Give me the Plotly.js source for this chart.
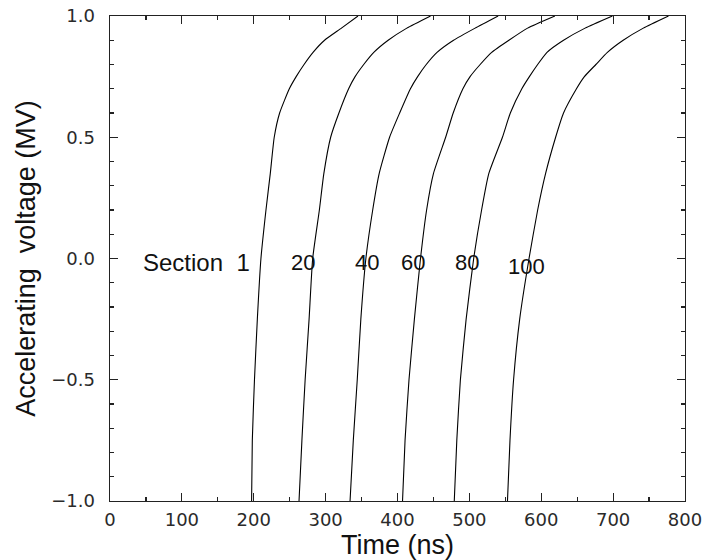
<!DOCTYPE html>
<html>
<head>
<meta charset="utf-8">
<script src="https://cdn.plot.ly/plotly-3.0.1.min.js"></script>
<style>
  html, body { margin: 0; padding: 0; background: #fff; }
  #chart { width: 715px; height: 560px; }
</style>
</head>
<body>
<div id="chart"></div>
<script>
// Accelerating voltage levels (MV) shared by every section curve
const volts = [-1, -0.75, -0.5, -0.25, 0, 0.2, 0.35, 0.5, 0.6, 0.7, 0.75, 0.8, 0.85, 0.9, 0.95, 1.0];

// Time (ns) at which each section reaches the voltage above
const timeSection1   = [197, 198, 201, 205, 210, 217, 223, 228.5, 236, 249.5, 259, 270, 282.5, 298.5, 322, 345];
const timeSection20  = [263, 267, 271.5, 277, 282, 291.3, 297.5, 307, 318.5, 332, 341, 353, 367, 387, 413, 446];
const timeSection40  = [334, 338.5, 344, 349, 356, 365.5, 374.5, 389, 403, 418, 428, 440, 455, 478, 508, 540];
const timeSection60  = [407, 410.5, 416, 423.5, 432, 440.5, 450, 467, 477.5, 491, 501, 515, 531, 555, 581, 619];
const timeSection80  = [479, 482.5, 487.5, 495.5, 506, 517, 527, 546, 557, 573, 583.5, 595, 608, 631, 661, 699];
const timeSection100 = [553, 556.5, 561.5, 570, 583, 595, 606, 620, 631, 649, 660, 676, 692, 714, 742, 777];

const sectionTimes = [timeSection1, timeSection20, timeSection40, timeSection60, timeSection80, timeSection100];

// Curve labels and where they sit (data coordinates)
const sectionLabels = ['Section\u00a0 1', '20', '40', '60', '80', '100'];
const labelTime = [120, 268.5, 357, 421.6, 496, 580];
const labelVolt = [-0.016, -0.016, -0.016, -0.016, -0.016, -0.035];

const xTicks = [0, 100, 200, 300, 400, 500, 600, 700, 800];
const yTicks = [-1.0, -0.5, 0.0, 0.5, 1.0];

const traces = sectionTimes.map(function (t) {
  return {
    x: t,
    y: volts,
    type: 'scatter',
    mode: 'lines',
    line: { color: '#000', width: 1.1, shape: 'spline', smoothing: 0.5 },
    hoverinfo: 'skip',
    showlegend: false
  };
});

const annotations = sectionLabels.map(function (txt, i) {
  return {
    x: labelTime[i],
    y: labelVolt[i],
    xref: 'x',
    yref: 'y',
    text: txt,
    showarrow: false,
    font: { family: 'Liberation Sans, Arial, sans-serif', size: i === 0 ? 24 : 22, color: '#111' },
    xanchor: 'center',
    yanchor: 'middle'
  };
});

const tickFont = { family: 'DejaVu Sans, sans-serif', size: 18, color: '#2a2a2a' };
const titleFont = { family: 'Liberation Sans, Arial, sans-serif', size: 27, color: '#111' };

const layout = {
  width: 715,
  height: 560,
  margin: { l: 110, r: 30, t: 16, b: 59, pad: 0 },
  paper_bgcolor: '#fff',
  plot_bgcolor: '#fff',
  showlegend: false,
  xaxis: {
    range: [0, 800],
    tickmode: 'array',
    tickvals: xTicks,
    ticktext: xTicks.map(String),
    ticks: 'inside',
    ticklen: 8,
    tickwidth: 1.2,
    tickcolor: '#222',
    minor: { dtick: 50, tick0: 0, ticks: 'inside', ticklen: 4, tickwidth: 1.2, tickcolor: '#222', showgrid: false },
    showline: true,
    linecolor: '#222',
    linewidth: 1.4,
    mirror: 'allticks',
    showgrid: false,
    zeroline: false,
    tickfont: tickFont,
    ticklabelstandoff: 2,
    automargin: false,
    title: { text: 'Time (ns)', font: titleFont, standoff: 0 }
  },
  yaxis: {
    range: [-1, 1],
    tickmode: 'array',
    tickvals: yTicks,
    ticktext: yTicks.map(function (v) { return (v < 0 ? '\u2212' : '') + Math.abs(v).toFixed(1); }),
    ticks: 'inside',
    ticklen: 8,
    tickwidth: 1.2,
    tickcolor: '#222',
    minor: { dtick: 0.1, tick0: 0, ticks: 'inside', ticklen: 4, tickwidth: 1.2, tickcolor: '#222', showgrid: false },
    showline: true,
    linecolor: '#222',
    linewidth: 1.4,
    mirror: 'allticks',
    showgrid: false,
    zeroline: false,
    tickfont: tickFont,
    ticklabelstandoff: 10,
    automargin: false,
    title: { text: 'Accelerating\u00a0 voltage (MV)', font: titleFont, standoff: 8 }
  },
  annotations: annotations
};

Plotly.newPlot('chart', traces, layout, { staticPlot: true, displayModeBar: false });
</script>
</body>
</html>
